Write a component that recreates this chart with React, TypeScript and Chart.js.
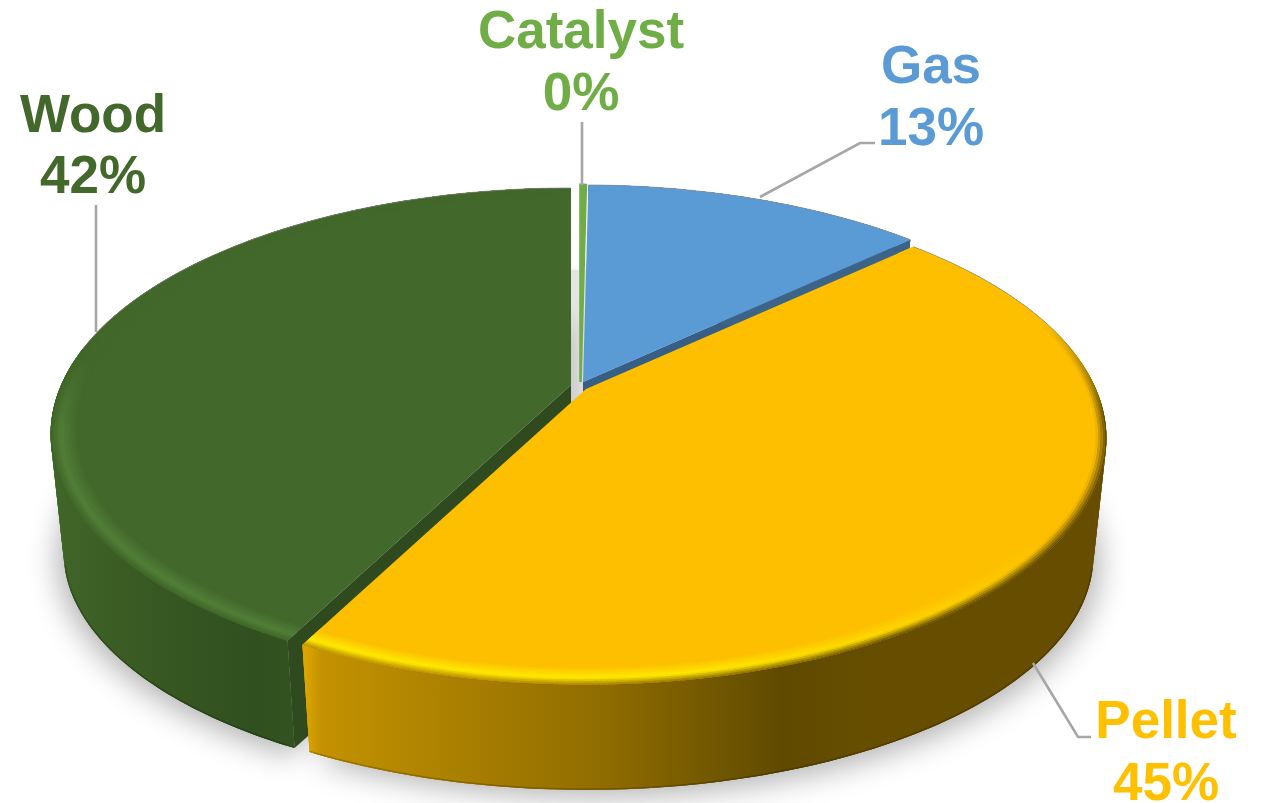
import React, { useEffect, useRef } from "react";
import { Chart, registerables } from "chart.js";

Chart.register(...registerables);

const CATEGORIES = ["Catalyst", "Gas", "Pellet", "Wood"];
const VALUES = [0.2, 12.8, 44.5, 42.4];
const TOP_COLORS = ["#70ad47", "#5b9bd5", "#fdbf00", "#43682b"];
const LABEL_COLORS = ["#70ad47", "#5b9bd5", "#ffc000", "#43682b"];

// Presentation constants
const W = 1263;
const H = 803;
const SHIFT = [[3, -4], [5.5, -4], [8.5, 3], [-6.5, -1]];
const DRAW_ORDER = [0, 1, 3, 2];
const K_A = 1.321;
const K_B = 0.6127;
const K_D = 0.311;
const PERSP = 0.2;
const LABEL_POS = [[581, 48], [931, 83], [1166, 738], [93, 131.5]];
const LINE_STEP = 61.5;
const LEADERS = [
  [[582, 122], [582, 185]],
  [[760, 197], [860, 143], [875, 143]],
  [[1033, 663], [1078, 737], [1091, 737]],
  [[96, 205], [96, 332]],
];
const WALLS: any[] = [
  [[0, "#4a7a2d"], [1, "#4a7a2d"]],
  [[0, "#3b6488"], [1, "#3b6488"]],
  [[0, "#dca500"], [0.02, "#c49200"], [0.17, "#ad8200"], [0.38, "#8f6c00"], [0.6, "#5f4a00"], [0.7, "#664d00"], [1, "#664d00"]],
  [[0, "#416629"], [0.1, "#3e6227"], [0.4, "#375822"], [0.75, "#30501f"], [0.95, "#33551f"], [1, "#2f4e1e"]],
];
const WALL_RANGE = [[570, 600], [580, 920], [305, 1100], [52, 320]];
const FACES = ["#4a7a2d", "#375f86", "#8a6800", "#2f4a1e"];

const clamp = (v: number) => Math.max(0, Math.min(1, v));
const hex = (c: string) => [1, 3, 5].map((i) => parseInt(c.slice(i, i + 2), 16));
const mix = (c1: string, c2: string, t: number) => {
  const a = hex(c1);
  const b = hex(c2);
  const m = a.map((v, i) => Math.round(v + (b[i] - v) * t));
  return "#" + m.map((v) => v.toString(16).padStart(2, "0")).join("");
};

function proj(arc: any, shift: number[], theta: number, rho: number, z: number) {
  const R = arc.outerRadius;
  const ux = rho * Math.cos(theta);
  const uy = rho * Math.sin(theta);
  const w = 1 - PERSP * uy;
  return [
    arc.x + shift[0] + (R * K_A * (1 - 0.025 * z) * ux) / w,
    arc.y + shift[1] + R * K_D * z + (R * K_B * (1 - 0.05 * z) * uy) / w,
  ];
}

function edge(arc: any, shift: number[], z: number, rho = 1) {
  const pts: number[][] = [];
  const n = Math.max(2, Math.ceil(((arc.endAngle - arc.startAngle) * 180) / Math.PI));
  for (let i = 0; i <= n; i++) {
    pts.push(proj(arc, shift, arc.startAngle + ((arc.endAngle - arc.startAngle) * i) / n, rho, z));
  }
  return pts;
}

function trace(ctx: CanvasRenderingContext2D, pts: number[][]) {
  ctx.beginPath();
  pts.forEach((p, i) => (i ? ctx.lineTo(p[0], p[1]) : ctx.moveTo(p[0], p[1])));
  ctx.closePath();
}

function rimStyle(idx: number, deg: number, uy: number) {
  const front = clamp((uy + 0.3) / 0.4);
  if (idx === 2) {
    return {
      hi: mix("#fdbf00", "#ffe900", clamp((deg - 125) / 45)),
      rim: mix(mix("#fdbf00", "#5f4a00", front), "#b88a00", clamp((deg - 150) / 40)),
    };
  }
  if (idx === 3) {
    const amt = clamp((320 - deg) / 40) * clamp((uy + 0.1) / 0.3);
    return {
      hi: mix("#43682b", "#527f38", amt),
      rim: mix("#43682b", "#3e6427", clamp((uy + 0.4) / 0.5)),
    };
  }
  return { hi: TOP_COLORS[idx], rim: TOP_COLORS[idx] };
}

const pie3d = {
  id: "pie3d",
  beforeDatasetsDraw(chart: any) {
    const ctx: CanvasRenderingContext2D = chart.ctx;
    const arcs = chart.getDatasetMeta(0).data;

    // ground shadow
    const full = { x: arcs[0].x, y: arcs[0].y, outerRadius: arcs[0].outerRadius, startAngle: 0, endAngle: Math.PI * 2 };
    ctx.save();
    ctx.shadowColor = "#e4e4e4";
    ctx.shadowBlur = 6;
    ctx.fillStyle = "#e4e4e4";
    trace(ctx, edge(full, [0, 0], 0.5, 0.9));
    ctx.fill();
    ctx.restore();
    [2, 3].forEach((i) => {
      ctx.save();
      ctx.shadowColor = "rgba(0,0,0,0.3)";
      ctx.shadowBlur = 30;
      ctx.shadowOffsetY = 7;
      ctx.shadowOffsetX = i === 2 ? 6 : -6;
      ctx.fillStyle = "#e4e4e4";
      trace(ctx, [proj(arcs[i], SHIFT[i], 0, 0, 1), ...edge(arcs[i], SHIFT[i], 1)]);
      ctx.fill();
      ctx.restore();
    });

    DRAW_ORDER.forEach((i) => {
      const arc = arcs[i];
      const s = SHIFT[i];
      const top = edge(arc, s, 0);
      const bottom = edge(arc, s, 1);

      // radial face on the side that looks towards the viewer
      if (i === 1 || i === 3) {
        const t = i === 1 ? arc.endAngle : arc.startAngle;
        ctx.fillStyle = FACES[i];
        trace(ctx, [proj(arc, s, t, 0, 0), proj(arc, s, t, 1, 0), proj(arc, s, t, 1, 1), proj(arc, s, t, 0, 1)]);
        ctx.fill();
      }

      // outer wall: overlapping quads keep the silhouette straight, the ring hides their seams
      if (i !== 0) {
        const g = ctx.createLinearGradient(WALL_RANGE[i][0], 0, WALL_RANGE[i][1], 0);
        WALLS[i].forEach((st: any) => g.addColorStop(st[0], st[1]));
        ctx.fillStyle = g;
        for (let j = 0; j < top.length - 1; j++) {
          const k = Math.min(j + 2, top.length - 1);
          trace(ctx, [top[j], top[k], bottom[k], bottom[j]]);
          ctx.fill();
        }
        trace(ctx, [...top, ...bottom.slice().reverse()]);
        ctx.fill();

        // darker lower edge, on the front of the wall only
        ctx.save();
        ctx.clip();
        ctx.strokeStyle = "rgba(0,0,0,0.2)";
        ctx.lineWidth = 3;
        ctx.beginPath();
        let pen = false;
        const m = bottom.length - 1;
        bottom.forEach((p, j) => {
          const th = arc.startAngle + ((arc.endAngle - arc.startAngle) * j) / m;
          if (Math.sin(th) > 0.25) {
            if (pen) ctx.lineTo(p[0], p[1]);
            else ctx.moveTo(p[0], p[1]);
            pen = true;
          } else pen = false;
        });
        ctx.stroke();
        ctx.restore();
      }

      // top surface
      const apex = proj(arc, s, 0, 0, 0);
      const wedge = [apex, ...top];
      ctx.fillStyle = TOP_COLORS[i];
      trace(ctx, wedge);
      ctx.fill();
      if (i === 0) {
        ctx.strokeStyle = TOP_COLORS[i];
        ctx.lineWidth = 2.6;
        ctx.stroke();
      }

      // bevelled rim
      ctx.save();
      trace(ctx, wedge);
      ctx.clip();
      const layers = 12;
      const step = 0.5 * (Math.PI / 180);
      ctx.lineWidth = 2.6;
      ctx.lineCap = "round";
      for (let l = 0; l < layers; l++) {
        const f = l / (layers - 1); // 0 outer -> 1 inner
        const rho = 1 - 0.05 * f;
        for (let th = arc.startAngle; th < arc.endAngle; th += step) {
          const next = Math.min(th + step, arc.endAngle);
          const deg = (((th + Math.PI / 2) * 180) / Math.PI + 720) % 360;
          const st = rimStyle(i, deg, Math.sin(th));
          const col = f < 0.4 ? mix(st.rim, st.hi, f / 0.4) : mix(st.hi, TOP_COLORS[i], (f - 0.4) / 0.6);
          const p1 = proj(arc, s, th, rho, 0);
          const p2 = proj(arc, s, next, rho, 0);
          ctx.strokeStyle = col;
          ctx.beginPath();
          ctx.moveTo(p1[0], p1[1]);
          ctx.lineTo(p2[0], p2[1]);
          ctx.stroke();
        }
      }
      ctx.restore();

      // thin edge on the back of the disc
      ctx.save();
      ctx.strokeStyle = "rgba(140,140,140,0.65)";
      ctx.lineWidth = 1;
      ctx.beginPath();
      let on = false;
      const n = top.length - 1;
      top.forEach((p, j) => {
        const th = arc.startAngle + ((arc.endAngle - arc.startAngle) * j) / n;
        if (Math.sin(th) < -0.15) {
          if (on) ctx.lineTo(p[0], p[1]);
          else ctx.moveTo(p[0], p[1]);
          on = true;
        } else on = false;
      });
      ctx.stroke();
      ctx.restore();
    });

    // data labels and leader lines
    ctx.save();
    ctx.strokeStyle = "#a6a6a6";
    ctx.lineWidth = 2.6;
    LEADERS.forEach((line) => {
      ctx.beginPath();
      line.forEach((p, j) => (j ? ctx.lineTo(p[0], p[1]) : ctx.moveTo(p[0], p[1])));
      ctx.stroke();
    });
    ctx.font = 'bold 53px "Liberation Sans", Arial, sans-serif';
    ctx.textAlign = "center";
    ctx.textBaseline = "alphabetic";
    CATEGORIES.forEach((name, i) => {
      ctx.fillStyle = LABEL_COLORS[i];
      ctx.fillText(name, LABEL_POS[i][0], LABEL_POS[i][1]);
      ctx.fillText(Math.round(VALUES[i]) + "%", LABEL_POS[i][0], LABEL_POS[i][1] + LINE_STEP);
    });
    ctx.restore();
    return false;
  },
};

export default function App() {
  const ref = useRef<HTMLCanvasElement>(null);
  useEffect(() => {
    const chart = new Chart(ref.current as HTMLCanvasElement, {
      type: "pie",
      data: {
        labels: CATEGORIES,
        datasets: [{ data: VALUES, backgroundColor: TOP_COLORS, borderWidth: 0 }],
      },
      options: {
        responsive: false,
        animation: false,
        layout: { padding: { right: 108, bottom: 31 } },
        plugins: { legend: { display: false }, tooltip: { enabled: false } },
      },
      plugins: [pie3d],
    } as any);
    return () => chart.destroy();
  }, []);
  return (
    <div style={{ position: "fixed", left: 0, top: 0, width: W, height: H, background: "#fff", overflow: "hidden" }}>
      <canvas ref={ref} width={W} height={H} style={{ display: "block" }} />
    </div>
  );
}
